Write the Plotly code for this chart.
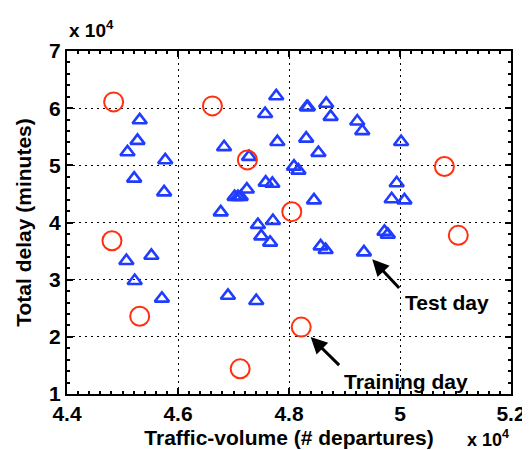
import plotly.graph_objects as go

# ---- data (actual units; axes labelled in units of 10^4) ----
train_x = [44840, 46620, 47250, 50800, 48050, 44810, 51050, 45310, 48220, 47120]
train_y = [61100, 60400, 50950, 49800, 41900, 36800, 37750, 23600, 21700, 14400]

test_x = [45310, 45270, 45090, 45210, 45770, 45750, 46830, 47280, 47240, 47020,
          47080, 47130, 46770, 47440, 47710, 47500, 47660, 47770, 47570, 47790,
          48320, 48340, 48670, 48750, 49230, 49320, 48310, 48530, 50020, 48090,
          48170, 47580, 47700, 49940, 49850, 50080, 48450, 49720, 49780, 48570,
          48660, 49350, 45070, 45520, 45220, 45710, 46900, 47410]
test_y = [57900, 54300, 52300, 47700, 50900, 45300, 53200, 51500, 45800, 44500,
          44500, 44500, 41800, 39600, 40300, 37600, 36500, 62100, 59000, 54100,
          60200, 60200, 60800, 58500, 57700, 56000, 54700, 52200, 54100, 49800,
          49100, 47000, 46800, 46900, 44100, 43900, 43900, 38400, 37900, 35850,
          35200, 34800, 33300, 34200, 29800, 26700, 27200, 26300]

x_ticks = [44000, 46000, 48000, 50000, 52000]
x_ticktext = ["4.4", "4.6", "4.8", "5", "5.2"]
y_ticks = [10000, 20000, 30000, 40000, 50000, 60000, 70000]
y_ticktext = ["1", "2", "3", "4", "5", "6", "7"]

FONT = "Liberation Sans"
RED = "#ff3010"
BLUE = "#1f3cff"

fig = go.Figure()
fig.add_trace(go.Scatter(
    x=test_x, y=test_y, mode="markers", name="Test day",
    marker=dict(symbol="triangle-up-open", size=12.5, color=BLUE,
                line=dict(color=BLUE, width=2.6)),
))
fig.add_trace(go.Scatter(
    x=train_x, y=train_y, mode="markers", name="Training day",
    marker=dict(symbol="circle-open", size=19, color=RED,
                line=dict(color=RED, width=2)),
))

axis_common = dict(
    showline=True, linecolor="black", linewidth=2, mirror="allticks",
    ticks="inside", ticklen=6, tickwidth=2, tickcolor="black",
    showgrid=True, gridcolor="black", gridwidth=1, griddash="2px,4px",
    zeroline=False,
    tickfont=dict(family=FONT, size=21, color="black", weight="bold"),
)

fig.update_xaxes(
    range=[44000, 52000], tickvals=x_ticks, ticktext=x_ticktext,
    minor=dict(dtick=200, ticks="inside", ticklen=3, tickcolor="black", showgrid=False),
    title=dict(text="Traffic-volume (# departures)", standoff=6,
               font=dict(family=FONT, size=21, color="black", weight="bold")),
    **axis_common,
)
fig.update_yaxes(
    range=[10000, 70000], tickvals=y_ticks, ticktext=y_ticktext,
    minor=dict(dtick=2000, ticks="inside", ticklen=3, tickcolor="black", showgrid=False),
    title=dict(text="Total delay (minutes)", standoff=12,
               font=dict(family=FONT, size=21, color="black", weight="bold")),
    **axis_common,
)

ann_font = dict(family=FONT, size=21, color="black", weight="bold")
annotations = [
    # arrows
    dict(x=49500, y=33560, ax=50010, ay=28280, axref="x", ayref="y",
         xref="x", yref="y", text="", showarrow=True, arrowhead=2,
         arrowsize=1.1, arrowwidth=3, arrowcolor="black"),
    dict(x=48390, y=19970, ax=48930, ay=14800, axref="x", ayref="y",
         xref="x", yref="y", text="", showarrow=True, arrowhead=2,
         arrowsize=1.1, arrowwidth=3, arrowcolor="black"),
    # labels
    dict(x=50840, y=26040, xref="x", yref="y", text="Test day",
         showarrow=False, font=ann_font, xanchor="center", yanchor="middle"),
    dict(x=50100, y=12270, xref="x", yref="y", text="Training day",
         showarrow=False, font=ann_font, xanchor="center", yanchor="middle"),
    # exponent labels
    dict(x=0.0, y=1.0, xref="paper", yref="paper", xanchor="left", yanchor="bottom",
         yshift=8, text="x 10<sup>4</sup>", showarrow=False,
         font=dict(family=FONT, size=19, color="black", weight="bold")),
    dict(x=1.0, y=0.0, xref="paper", yref="paper", xanchor="right", yanchor="top",
         yshift=-31, text="x 10<sup>4</sup>", showarrow=False,
         font=dict(family=FONT, size=18, color="black", weight="bold")),
]

fig.update_layout(
    width=530, height=450,
    margin=dict(l=59, r=17, t=43, b=59),
    paper_bgcolor="white", plot_bgcolor="white",
    showlegend=False,
    annotations=annotations,
)

fig.write_html("out.html")
